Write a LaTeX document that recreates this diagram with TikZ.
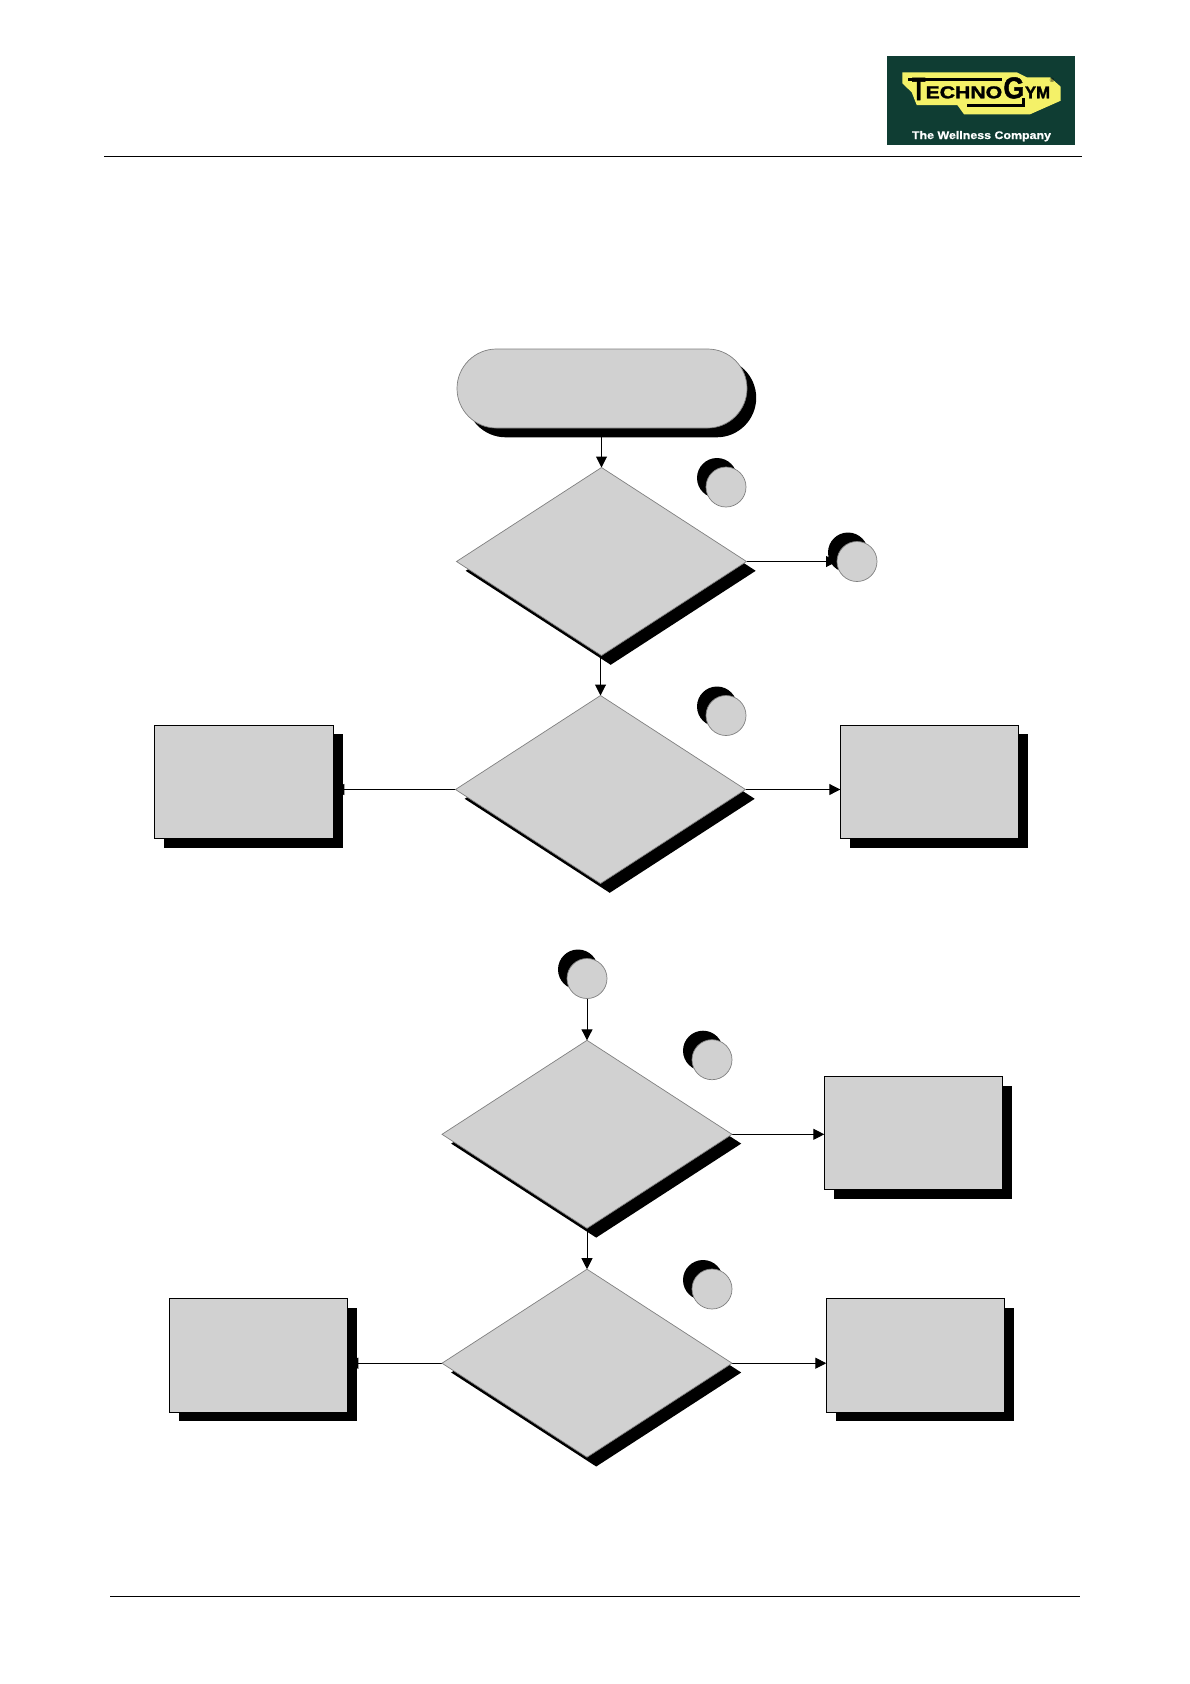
\documentclass[tikz,border=0pt]{standalone}
\usepackage{graphicx}
\usepackage{fontspec}
\setmainfont{Liberation Sans}
\newfontfamily\logoheavy{Liberation Sans Bold}[FakeBold=1.6]
\newfontfamily\logoslogan{Liberation Sans Bold}[FakeBold=0.8]
\usetikzlibrary{shapes.geometric,shapes.misc,shadows,arrows.meta,backgrounds}
\definecolor{boxgrey}{HTML}{D1D1D1}
\definecolor{edgegrey}{HTML}{808080}
\definecolor{logogreen}{HTML}{0F3D33}
\definecolor{logoyellow}{HTML}{F4F168}
\tikzset{
  shadeR/.style={drop shadow={shadow xshift=9.2pt,shadow yshift=-9.3pt,fill=black,opacity=1}},
  decision/.style={shape=diamond,fill=boxgrey,draw=edgegrey,line width=0.7pt,inner sep=0pt,outer sep=0pt,
     minimum width=290pt,minimum height=188pt,shadeR},
  actionbox/.style={shape=rectangle,fill=boxgrey,draw=black,line width=1pt,inner sep=0pt,outer sep=0pt,
     minimum width=178pt,minimum height=113.5pt,shadeR},
  startpill/.style={shape=rounded rectangle,fill=boxgrey,draw=edgegrey,line width=0.7pt,inner sep=0pt,outer sep=0pt,
     minimum width=290pt,minimum height=79pt,shadeR},
  marker/.style={shape=circle,fill=boxgrey,draw=edgegrey,line width=0.7pt,inner sep=0pt,outer sep=0pt,
     minimum size=40pt,drop shadow={shadow xshift=-9pt,shadow yshift=9pt,fill=black,opacity=1}},
  flow/.style={draw=black,line width=1pt,-{Triangle[length=11pt,width=11pt]}},
  rulel/.style={draw=black,line width=1pt},
  logotext/.style={inner sep=0pt,outer sep=0pt,text=black,font=\logoheavy},
  logofill/.style={fill=black,draw=none}
}
\begin{document}
\begin{tikzpicture}[x=1pt,y=-1pt]
\useasboundingbox (0,0) rectangle (1190,1684);
\begin{scope}[on background layer]
\fill[white] (0,0) rectangle (1190,1684);
\end{scope}

% header / footer
\draw[rulel] (104,156) -- (1082,156);
\draw[rulel] (110,1596) -- (1080,1596);

% logo
\fill[logogreen] (887,56) rectangle (1075,145);
\fill[logoyellow] (902.3,72.3) -- (1016.7,72.3) -- (1026.7,77.3) -- (1050,77.3) -- (1060.7,86.7) -- (1060.7,100.7)
  -- (1030,114.3) -- (964,114.3) -- (957.3,105) -- (916.7,105) -- (911.7,92.3) -- (902.3,83.3) -- cycle;
\fill[logofill] (907.7,77.7) rectangle (1001.7,81);
\fill[logofill] (966.7,103.5) rectangle (1025,106.5);
\fill[logofill] (1021.5,98) rectangle (1025,106.5);
\node[logotext,anchor=base west] (logoT) at (912,100) {\resizebox{13.4pt}{22pt}{T}};
\node[logotext,anchor=base west] (logoE) at (925.6,98.3) {\resizebox{76.6pt}{12pt}{ECHNO}};
\node[logotext,anchor=base west] (logoG) at (1003.4,98.3) {\resizebox{21pt}{21pt}{G}};
\node[logotext,anchor=base west] (logoY) at (1025,98.3) {\resizebox{25pt}{11.7pt}{YM}};
\node[logotext,anchor=center,font=\fontsize{6}{6}\selectfont] (logoR) at (1052,80) {®};
\node[inner sep=0pt,outer sep=0pt,text=white,font=\logoslogan,anchor=base west] (logoS) at (912,139)
  {\resizebox{139pt}{\height}{\fontsize{11}{11}\selectfont The Wellness Company}};

% flow shapes
\node[startpill] (start) at (602,388.5) {};
\node[decision] (d1) at (601.5,561.5) {};
\node[decision] (d2) at (600.5,789.5) {};
\node[decision] (d3) at (587,1134.3) {};
\node[decision] (d4) at (587,1363.2) {};

\node[marker] (m1) at (726,487) {};
\node[marker] (m2) at (857,561.5) {};
\node[marker] (m3) at (726,715.5) {};
\node[marker] (m4) at (587,978.5) {};
\node[marker] (m5) at (712,1059.7) {};
\node[marker] (m6) at (712,1289) {};

\node[actionbox,minimum width=179pt] (bl1) at (243.8,781.8) {};
\node[actionbox] (br1) at (929.3,781.8) {};
\node[actionbox] (br2) at (913.3,1133.2) {};
\node[actionbox] (bl2) at (258.3,1355.3) {};
\node[actionbox] (br3) at (915.3,1355.3) {};

% connectors, below the shapes and their shadows
\begin{scope}[on background layer]
\draw[flow] (start.south -| d1.north) -- (d1.north);
\draw[flow] (d1.east) -- (m2.west);
\draw[flow] (d1.south -| d2.north) -- (d2.north);
\draw[flow] (d2.west) -- (d2.west -| bl1.east);
\draw[flow] (d2.east) -- (d2.east -| br1.west);
\draw[flow] (m4.south) -- (d3.north);
\draw[flow] (d3.east) -- (d3.east -| br2.west);
\draw[flow] (d3.south) -- (d4.north);
\draw[flow] (d4.west) -- (d4.west -| bl2.east);
\draw[flow] (d4.east) -- (d4.east -| br3.west);
\end{scope}
\end{tikzpicture}
\end{document}
